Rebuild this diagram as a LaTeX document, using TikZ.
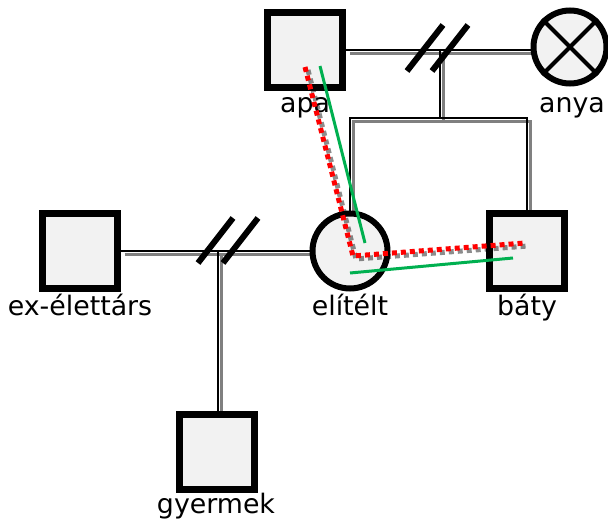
\documentclass[tikz,border=0pt]{standalone}
\usepackage{fontspec}
\setmainfont{DejaVu Sans}
\usetikzlibrary{backgrounds,calc}
\definecolor{shapefill}{HTML}{F2F2F2}
\definecolor{relgreen}{RGB}{0,176,80}
\begin{document}
\begin{tikzpicture}[x=1pt,y=-1pt,
  male/.style={rectangle, draw, line width=7pt, fill=shapefill, minimum size=75pt, inner sep=0pt},
  female/.style={circle, draw, line width=6pt, fill=shapefill, minimum size=75pt, inner sep=0pt},
  lbl/.style={font=\fontsize{26.8}{30}\selectfont, anchor=base, inner sep=0pt},
  rel/.style={draw=black, line width=1.6pt},
  relshadow/.style={draw=black!50, line width=3.2pt, transform canvas={shift={(3.8pt,-3.8pt)}}},
  divorce/.style={draw=black, line width=6pt},
  hostile/.style={draw=red, line width=5pt, dash pattern=on 5pt off 4pt},
  hostileshadow/.style={draw=black, opacity=0.45, line width=5pt, dash pattern=on 5pt off 4pt, transform canvas={shift={(3pt,-3pt)}}},
  closeline/.style={draw=relgreen, line width=3pt}
]
\useasboundingbox (0,0) rectangle (608,519);
% persons
\node[male] (apa) at (305,50) {};
\node[female, minimum size=73pt] (anya) at (570,47) {};
\draw[line width=4pt] (anya.north west) -- (anya.south east);
\draw[line width=4pt] (anya.north east) -- (anya.south west);
\node[female] (elitelt) at (350,251) {};
\node[male] (baty) at (527,251) {};
\node[male] (ex) at (80,251) {};
\node[male] (gyermek) at (217,452) {};
% labels
\node[lbl] (apalbl) at (305,113) {apa};
\node[lbl] (anyalbl) at (572,112) {anya};
\node[lbl] (elitеltlbl) at (350,315) {elítélt};
\node[lbl] (batylbl) at (527,315) {báty};
\node[lbl] (exlbl) at (80,315) {ex-élettárs};
\node[lbl] (gyermeklbl) at (216,513) {gyermek};
% junctions
\coordinate (m1) at (440,50);
\coordinate (sib) at (440,118);
\coordinate (m2) at (218,251);
\begin{pgfonlayer}{background}
\fill[white] (0,0) rectangle (608,519);
\foreach \s in {relshadow, rel} {
  \draw[\s] (apa) -- (m1) -- (m1 -| anya);
  \draw[\s] (m1) -- (sib);
  \draw[\s] (elitelt) |- (sib) -| (baty);
  \draw[\s] (ex) -- (m2) -- (elitelt);
  \draw[\s] (m2) -- (m2 |- gyermek.north);
}
\end{pgfonlayer}
% divorce slashes
\draw[divorce] ($(m1)+(-33,21)$) -- ($(m1)+(3,-25)$);
\draw[divorce] ($(m1)+(-8,21)$) -- ($(m1)+(28,-25)$);
\draw[divorce] ($(m2)+(-20,12)$) -- ($(m2)+(15,-33)$);
\draw[divorce] ($(m2)+(5,12)$) -- ($(m2)+(40,-33)$);
% emotional lines
\coordinate (r1) at (305,67);
\coordinate (r2) at (353,256);
\coordinate (r3) at (525,243);
\draw[hostileshadow] (r1) -- (r2) -- (r3);
\draw[hostile] (r1) -- (r2) -- (r3);
\coordinate (g1) at (320,66);
\coordinate (g2) at (365,243);
\coordinate (g3) at (350,273);
\coordinate (g4) at (513,258);
\draw[closeline] (g1) -- (g2);
\draw[closeline] (g3) -- (g4);
\end{tikzpicture}
\end{document}
